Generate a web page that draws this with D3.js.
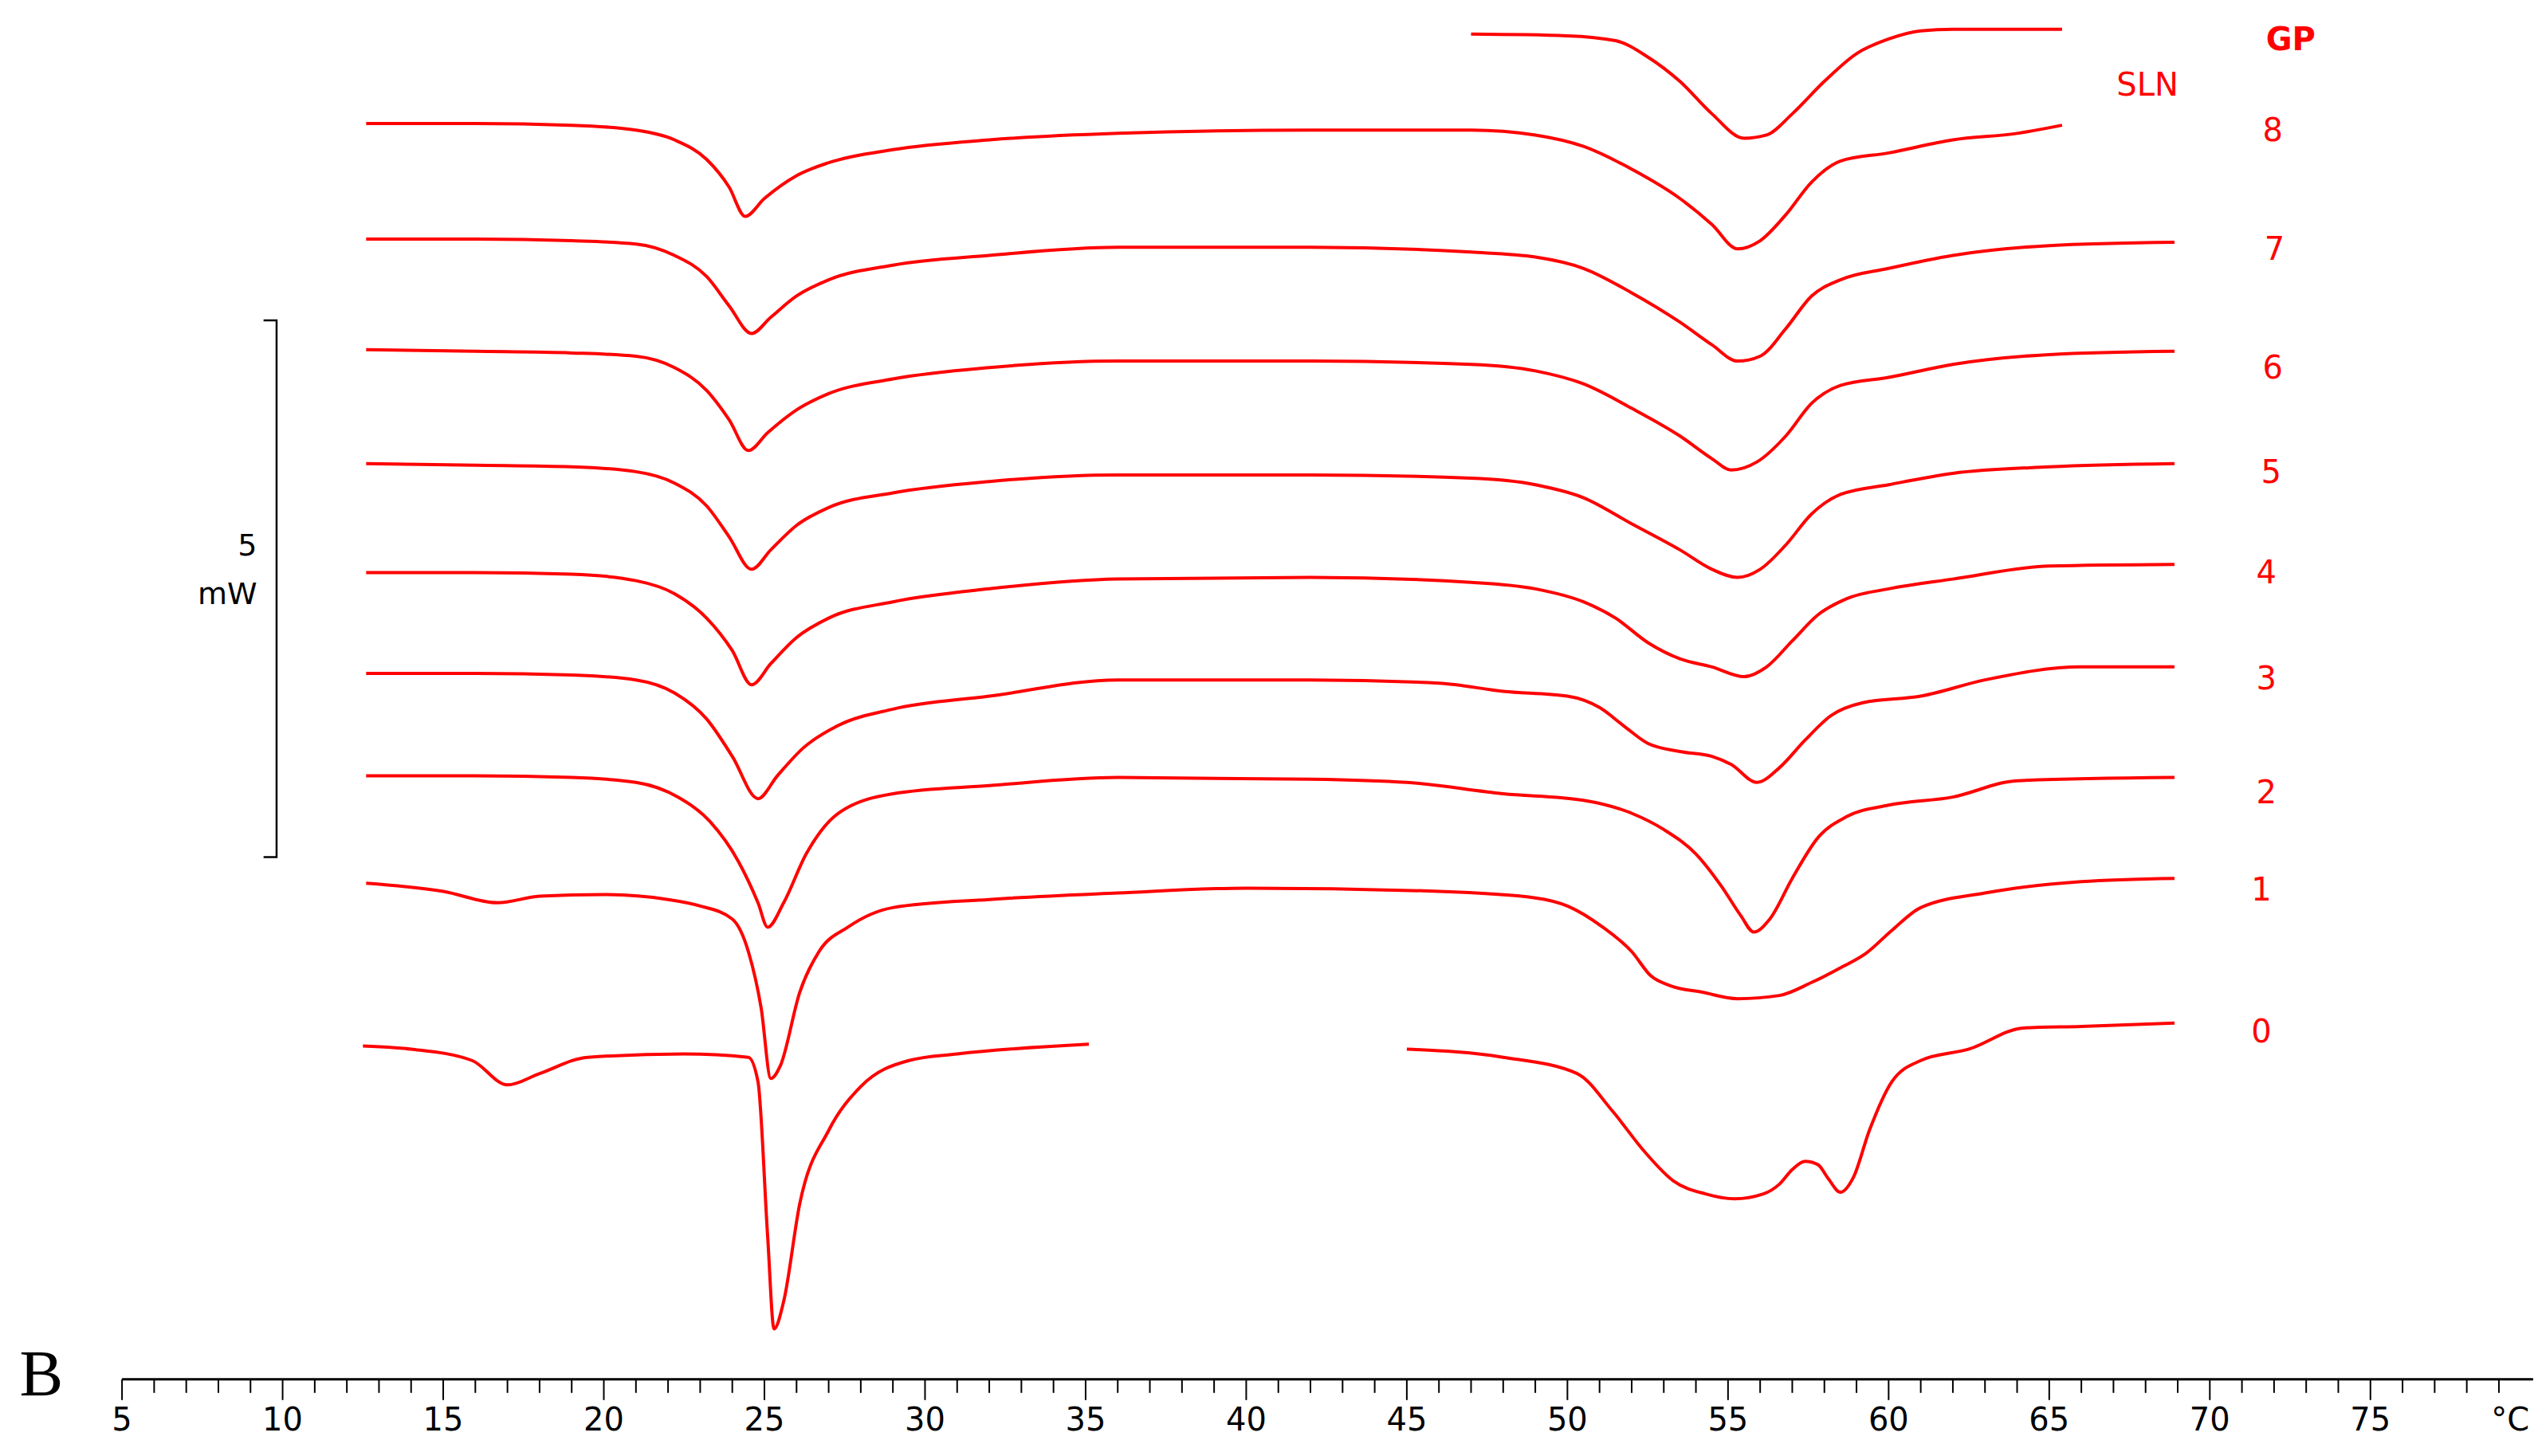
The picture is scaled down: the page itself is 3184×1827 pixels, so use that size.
<!DOCTYPE html>
<html><head><meta charset="utf-8">
<script src="https://d3js.org/d3.v7.min.js"></script>
<style>body{margin:0;background:#fff}svg{display:block}</style>
</head><body>
<svg id="dsc" width="3184" height="1827"></svg>
<script>
// temperatures (°C) and vertical position of each trace (plot units, 66 units = 1 mW, downward)
var tempTicks = d3.range(5, 80, 5);
var curveNames = ["GP", "8", "7", "6", "5", "4", "3", "2", "1", "0"];
var labelPos = [[1408, 24], [1397, 80], [1398, 153], [1397, 226], [1396, 290], [1393, 352], [1393, 417], [1393, 487], [1390, 547], [1390, 634]];

var gp = [[47.0,21],[50,22],[51.5,25],[52.5,35],[53.5,50],[54.5,70],[55.5,85],[56.2,83],[57,70],[58,50],[59,33],[60,24],[61,19],[62,18],[65.4,18]];
var c8 = [[12.6,76],[16,76],[19,77],[21,80],[22.2,86],[23.2,98],[23.9,115],[24.4,133],[25,122],[26,108],[27,100],[29,92],[32,86],[36,82],[42,80],[47,80],[49,83],[50.5,90],[52,104],[53.5,122],[54.5,138],[55.3,153],[56,148],[56.8,132],[57.6,112],[58.5,99],[60,94],[62,86],[64,82],[65.4,77]];
var c7 = [[12.6,147],[16,147],[19,148],[21,150],[22.2,157],[23.2,170],[23.9,188],[24.6,205],[25.2,195],[26,182],[27,172],[29,163],[32,157],[36,152],[42,152],[47,155],[49,158],[50.5,165],[52,180],[53.5,198],[54.5,212],[55.3,222],[56,219],[56.8,202],[57.6,182],[58.5,172],[60,165],[62,157],[65,151],[68.9,149]];
var c6 = [[12.6,215],[16,216],[19,217],[21,219],[22.2,226],[23.2,240],[23.9,258],[24.5,277],[25.1,266],[26,252],[27,242],[29,233],[32,226],[36,222],[42,222],[47,224],[49,228],[50.5,236],[52,251],[53.5,268],[54.5,282],[55.1,289],[55.9,284],[56.8,268],[57.6,248],[58.5,237],[60,232],[62,224],[65,218],[68.9,216]];
var c5 = [[12.6,285],[16,286],[19,287],[21,290],[22.2,297],[23.2,311],[23.9,330],[24.6,350],[25.2,338],[26,323],[27,312],[29,303],[32,296],[36,292],[42,292],[47,294],[49,298],[50.5,306],[52,322],[53.5,338],[54.5,350],[55.3,355],[56,350],[56.8,335],[57.6,316],[58.5,304],[60,298],[62,291],[65,287],[68.9,285]];
var c4 = [[12.6,352],[16,352],[19,353],[21,357],[22.2,365],[23.2,380],[24,400],[24.6,421],[25.2,408],[26,392],[27,380],[29,370],[32,362],[36,356],[42,355],[47,358],[49,362],[50.5,370],[51.5,380],[52.5,395],[53.5,405],[54.5,410],[55.5,416],[56.2,410],[57,394],[57.8,378],[58.7,368],[60,362],[62,356],[65,348],[68.9,347]];
var c3 = [[12.6,414],[16,414],[19,415],[21,418],[22.2,426],[23.2,442],[24,465],[24.8,491],[25.4,477],[26.2,460],[27.3,446],[29,436],[32,428],[36,418],[42,418],[46,420],[48,425],[50,428],[51,435],[51.8,447],[52.5,457],[53.5,462],[54.5,465],[55.1,470],[55.9,481],[56.6,472],[57.4,455],[58.2,440],[59.2,432],[61,428],[63,418],[66,410],[68.9,410]];
var c2 = [[12.6,477],[16,477],[19,478],[21,481],[22.3,490],[23.3,505],[24.2,530],[24.8,555],[25.1,570],[25.6,555],[26.3,525],[27.3,500],[29,488],[32,483],[36,478],[42,479],[45,481],[48,488],[50.5,492],[52,500],[53,510],[54,525],[54.8,545],[55.4,563],[55.8,573],[56.3,565],[57,540],[57.8,515],[58.7,502],[60,495],[62,490],[64,480],[68.9,478]];
var c1 = [[12.6,543],[15,548],[16.7,555],[18,551],[20,550],[22,553],[23,557],[24,565],[24.5,585],[24.9,620],[25.2,663],[25.5,655],[26.1,610],[26.7,585],[27.6,570],[29,558],[32,553],[36,549],[40,546],[46,548],[49,552],[50,557],[51.1,570],[52,585],[52.6,600],[53.2,606],[54.2,610],[55.3,614],[56.6,612],[57.6,604],[58.6,594],[59.3,586],[60.1,572],[61,558],[63,549],[66,542],[68.9,540]];
var c0a = [[12.5,643],[14,645],[15.9,652],[17,667],[18,660],[19.5,650],[22.5,648],[24.5,650],[24.8,665],[25.1,760],[25.3,817],[25.6,800],[26.1,740],[27,695],[28,668],[29.5,652],[31,648],[35.1,642]];
var c0b = [[45.0,645],[48,650],[50.3,660],[51.4,683],[52.4,708],[53.3,726],[54.3,734],[55.2,737],[56.1,734],[56.6,728],[57,719],[57.4,714],[57.8,716],[58.1,724],[58.5,733],[58.9,724],[59.4,695],[60.1,665],[61,652],[62.5,645],[64.2,632],[66,631],[68.9,629]];
var traces = [gp, c8, c7, c6, c5, c4, c3, c2, c1, c0a, c0b];

var S = 3184 / 1560;
var svg = d3.select("#dsc");
var x = d3.scaleLinear().domain([5, 75]).range([75 * S, 1457 * S]);
var y = d3.scaleLinear().domain([0, 895]).range([0, 895 * S]);

var line = d3.line()
    .x(function (d) { return x(d[0]); })
    .y(function (d) { return y(d[1]); })
    .curve(d3.curveMonotoneX);

traces.forEach(function (t) {
    svg.append("path").datum(t)
        .attr("fill", "none").attr("stroke", "#ff0000")
        .attr("stroke-width", 4).attr("stroke-linejoin", "round")
        .attr("d", line);
});

svg.selectAll("text.lbl").data(curveNames).enter().append("text")
    .attr("class", "lbl")
    .attr("x", function (d, i) { return labelPos[i][0] * S; })
    .attr("y", function (d, i) { return labelPos[i][1] * S; })
    .attr("dy", "0.35em").attr("text-anchor", "middle")
    .attr("fill", "#ff0000").attr("font-family", "DejaVu Sans")
    .attr("font-weight", function (d) { return d === "GP" ? "bold" : "normal"; })
    .attr("font-size", 40)
    .text(function (d) { return d; });
svg.append("text").attr("x", 1320 * S).attr("y", 52 * S).attr("dy", "0.35em")
    .attr("text-anchor", "middle").attr("fill", "#ff0000")
    .attr("font-family", "DejaVu Sans").attr("font-size", 40).text("SLN");

// 5 mW scale bar
var barTop = 197, barLen = 5 * 66;
svg.append("path").attr("fill", "none").attr("stroke", "#000").attr("stroke-width", 2.5)
    .attr("d", "M" + 162 * S + "," + y(barTop) + "H" + 170 * S + "V" + y(barTop + barLen) + "H" + 162 * S);
svg.append("text").attr("x", 158 * S).attr("y", 335 * S).attr("dy", "0.35em").attr("text-anchor", "end")
    .attr("font-family", "DejaVu Sans").attr("font-size", 38).text("5");
svg.append("text").attr("x", 158 * S).attr("y", 365 * S).attr("dy", "0.35em").attr("text-anchor", "end")
    .attr("font-family", "DejaVu Sans").attr("font-size", 38).text("mW");

// temperature axis
var axisY = 848 * S;
var ax = svg.append("g").attr("transform", "translate(0," + axisY + ")");
ax.append("line").attr("x1", x(5)).attr("x2", 1557 * S).attr("stroke", "#000").attr("stroke-width", 3);
ax.selectAll("line.minor").data(d3.range(5, 80, 1)).enter().append("line")
    .attr("x1", x).attr("x2", x).attr("y1", 0)
    .attr("y2", function (d) { return d % 5 === 0 ? 26 : 17; })
    .attr("stroke", "#000").attr("stroke-width", 2);
ax.selectAll("text.tick").data(tempTicks).enter().append("text")
    .attr("x", x).attr("y", 64).attr("text-anchor", "middle")
    .attr("font-family", "DejaVu Sans").attr("font-size", 40).text(function (d) { return d; });
ax.append("text").attr("x", 1543 * S).attr("y", 64).attr("text-anchor", "middle")
    .attr("font-family", "DejaVu Sans").attr("font-size", 40).text("°C");
svg.append("text").attr("x", 12 * S).attr("y", 858 * S)
    .attr("font-family", "Liberation Serif").attr("font-size", 82).text("B");
</script>
</body></html>
